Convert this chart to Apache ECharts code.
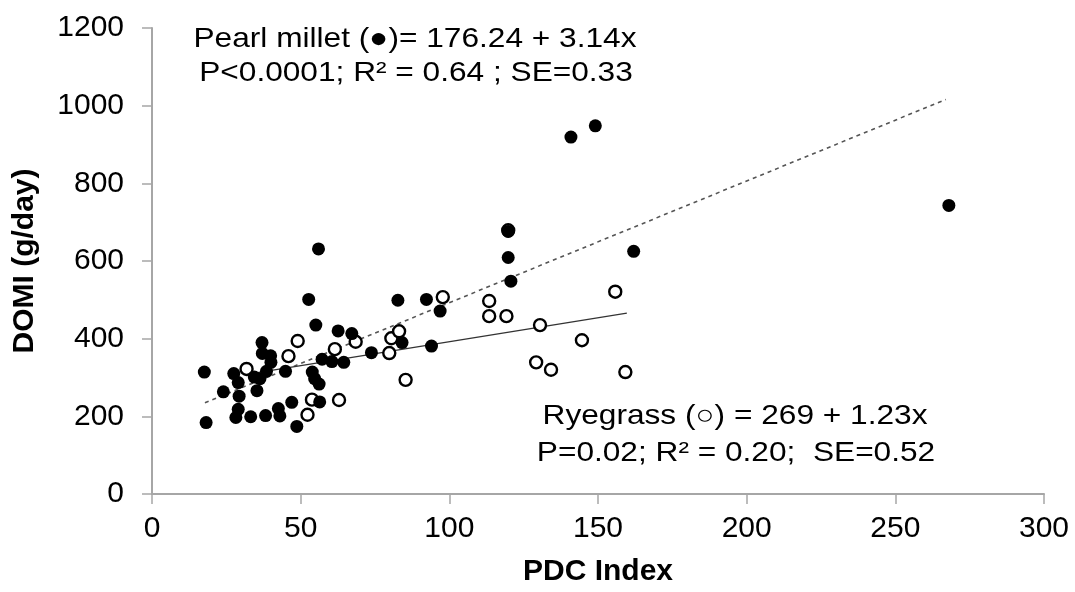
<!DOCTYPE html>
<html><head><meta charset="utf-8">
<script src="https://cdn.jsdelivr.net/npm/echarts@6/dist/echarts.min.js"></script>
<style>html,body{margin:0;padding:0;background:#fff}#c{width:1075px;height:592px}</style>
</head><body><div id="c"></div>
<script>
// Pearl millet (filled) [PDC Index, DOMI g/day]
var pearlMillet = [
  [17.6,314],[18.2,184],[24.0,263],[27.5,310],[29.0,287],[29.3,252],[29.0,218],[28.2,197],
  [33.2,199],[34.4,301],[35.3,266],[36.3,297],[37.0,390],[37.1,362],[38.5,316],[38.2,202],
  [39.9,356],[40.0,339],[42.5,220],[43.0,201],[44.9,316],[47.0,236],[48.7,174],[52.7,501],
  [53.9,314],[54.7,297],[55.1,435],[56.0,631],[56.2,283],[56.4,237],[57.2,347],[60.5,341],
  [62.6,420],[64.5,339],[67.2,413],[73.8,364],[82.7,499],[84.1,390],[92.3,501],[94.0,381],
  [96.9,471],[119.8,676],[119.8,609],[120.7,548],[140.9,919],[149.1,948],[162.0,625],[268.0,743]
];
// Ryegrass (open)
var ryegrass = [
  [31.8,322],[45.9,355],[49.0,394],[52.3,204],[53.8,243],[61.5,373],[62.9,242],[68.5,392],
  [79.8,363],[80.5,401],[83.1,419],[85.3,294],[97.8,507],[113.4,497],[113.4,458],[119.2,458],
  [119.8,679],[129.2,339],[130.5,435],[134.2,320],[144.6,396],[155.8,521],[159.2,314]
];
// Fitted line endpoints
var pearlTrend = [[17.8,235],[267,1016]];
var ryeTrend = [[31.8,308],[159.7,466]];

var xTicks = {min:0, max:300, interval:50};
var yTicks = {min:0, max:1200, interval:200};
var xTitle = 'PDC Index';
var yTitle = 'DOMI (g/day)';
var pearlText = ['Pearl millet (\u25CF)= 176.24 + 3.14x', 'P<0.0001; R\u00B2 = 0.64 ; SE=0.33'];
var ryeText = ['Ryegrass (\u25CB) = 269 + 1.23x', 'P=0.02; R\u00B2 = 0.20;  SE=0.52'];

var FONT = '"Liberation Sans", Arial, sans-serif';
var AX = '#a6a6a6';
var chart = echarts.init(document.getElementById('c'), null, {renderer:'canvas'});
function txt(s, x, y){
  return {type:'text', x:x, y:y, scaleX:1.13, scaleY:1,
    style:{text:s, fill:'#000', font:'28px '+FONT, textAlign:'center', textVerticalAlign:'middle'}};
}
chart.setOption({
  animation:false,
  backgroundColor:'#fff',
  grid:{left:152, right:31, top:28, bottom:94, containLabel:false},
  xAxis:{type:'value', min:xTicks.min, max:xTicks.max, interval:xTicks.interval,
    axisLine:{show:true, lineStyle:{color:AX, width:2}},
    axisTick:{show:true, length:10, lineStyle:{color:AX, width:1.5}},
    splitLine:{show:false},
    axisLabel:{color:'#000', fontSize:30, fontFamily:FONT, margin:20},
    name:xTitle, nameLocation:'middle', nameGap:63,
    nameTextStyle:{color:'#000', fontSize:30, fontWeight:'bold', fontFamily:FONT}},
  yAxis:{type:'value', min:yTicks.min, max:yTicks.max, interval:yTicks.interval,
    axisLine:{show:true, lineStyle:{color:AX, width:2}},
    axisTick:{show:true, length:10, lineStyle:{color:AX, width:1.5}},
    splitLine:{show:false},
    axisLabel:{color:'#000', fontSize:30, fontFamily:FONT, margin:28,
      formatter:function(v){return String(v);}},
    name:yTitle, nameLocation:'middle', nameGap:112, nameRotate:90,
    nameTextStyle:{color:'#000', fontSize:30, fontWeight:'bold', fontFamily:FONT}},
  series:[
    {type:'line', data:pearlTrend, symbol:'none', z:1,
      lineStyle:{color:'#555', width:1.6, type:[4,4]}},
    {type:'line', data:ryeTrend, symbol:'none', z:1,
      lineStyle:{color:'#333', width:1.2}},
    {type:'scatter', data:ryegrass, symbol:'circle', symbolSize:12, z:3,
      itemStyle:{color:'#fff', borderColor:'#000', borderWidth:2.4, opacity:1}},
    {type:'scatter', data:pearlMillet, symbol:'circle', symbolSize:13, z:4,
      itemStyle:{color:'#000', borderColor:'#000', borderWidth:0, opacity:1}}
  ],
  graphic:[
    txt(pearlText[0], 415, 39.5),
    txt(pearlText[1], 416, 73.5),
    txt(ryeText[0], 735, 416.5),
    txt(ryeText[1], 736, 453.5)
  ]
});
</script></body></html>
